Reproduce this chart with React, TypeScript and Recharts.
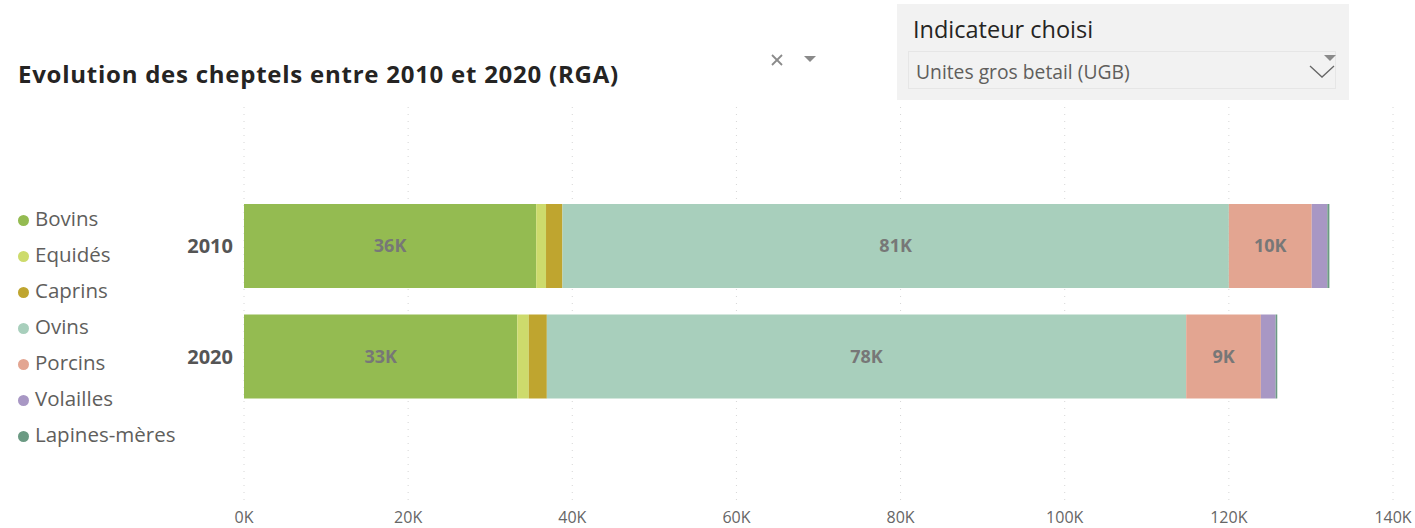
import React from 'react';
import { BarChart, Bar, XAxis, YAxis, CartesianGrid, LabelList } from 'recharts';

const years = ['2010', '2020'];
const seriesNames = ['Bovins', 'Equidés', 'Caprins', 'Ovins', 'Porcins', 'Volailles', 'Lapines-mères'];
const seriesColors = ['#94BB51', '#CDDB6C', '#BFA52F', '#A8CFBC', '#E3A591', '#A897C4', '#6B9A83'];
const values2010 = [35600, 1200, 2000, 81200, 10100, 1900, 250];
const values2020 = [33300, 1400, 2200, 77900, 9100, 1800, 200];
const xTicks = [0, 20000, 40000, 60000, 80000, 100000, 120000, 140000];
const labelledSeries = ['Bovins', 'Ovins', 'Porcins'];

const allValues = [values2010, values2020];
const data = years.map((y, i) => {
  const row: Record<string, any> = { year: y };
  seriesNames.forEach((s, j) => {
    row[s] = allValues[i][j];
  });
  return row;
});

const FONT = '"Segoe UI", "Open Sans", "Noto Sans", sans-serif';

const fmtK = (v: any) => `${Math.round(Number(v) / 1000)}K`;

export default function App() {
  return (
    <div style={{ position: 'absolute', left: 0, top: 0, width: 1415, height: 528, background: '#fff', fontFamily: FONT, overflow: 'hidden' }}>
      {/* Title */}
      <div style={{ position: 'absolute', left: 18, top: 57, fontSize: 24, fontWeight: 700, color: '#252423', whiteSpace: 'nowrap', letterSpacing: 0.75 }}>
        Evolution des cheptels entre 2010 et 2020 (RGA)
      </div>
      {/* clear / dropdown icons */}
      <svg style={{ position: 'absolute', left: 765, top: 48 }} width={60} height={24}>
        <line x1={7} y1={7} x2={17} y2={17} stroke="#8a8a8a" strokeWidth={1.8} />
        <line x1={17} y1={7} x2={7} y2={17} stroke="#8a8a8a" strokeWidth={1.8} />
        <polygon points="39,8 51,8 45,14" fill="#8a8a8a" />
      </svg>
      {/* Slicer */}
      <div style={{ position: 'absolute', left: 897, top: 4, width: 452, height: 96, background: '#F2F2F2' }}>
        <div style={{ position: 'absolute', left: 16, top: 9, fontSize: 23.5, color: '#252423', whiteSpace: 'nowrap' }}>Indicateur choisi</div>
        <div style={{ position: 'absolute', left: 11, top: 47, width: 428, height: 38, border: '1px solid #E6E6E6', boxSizing: 'border-box' }}>
          <div style={{ position: 'absolute', left: 7, top: 6, fontSize: 19.3, color: '#605E5C', whiteSpace: 'nowrap' }}>Unites gros betail (UGB)</div>
        </div>
        <svg style={{ position: 'absolute', left: 405, top: 48 }} width={40} height={36}>
          <polygon points="22,3 34,3 28,9" fill="#8a8a8a" />
          <polyline points="8,14 20,25 32,14" fill="none" stroke="#666" strokeWidth={1.3} />
        </svg>
      </div>
      {/* Legend */}
      <div style={{ position: 'absolute', left: 18, top: 202 }}>
        {seriesNames.map((s, i) => (
          <div key={s} style={{ display: 'flex', alignItems: 'center', height: 36, fontSize: 20.5, color: '#605E5C', whiteSpace: 'nowrap' }}>
            <span style={{ display: 'inline-block', width: 11, height: 11, borderRadius: 6, background: seriesColors[i], marginRight: 6, marginTop: 1 }} />
            <span style={{ lineHeight: '26px', marginTop: -4 }}>{s}</span>
          </div>
        ))}
      </div>
      {/* Chart */}
      <div style={{ position: 'absolute', left: 0, top: 0 }}>
        <BarChart
          width={1415}
          height={528}
          data={data}
          layout="vertical"
          margin={{ top: 107, right: 22, left: 0, bottom: 0 }}
          barSize={84}
        >
          <CartesianGrid horizontal={false} vertical={true} stroke="#D6D6D6" strokeDasharray="1 6" />
          <XAxis
            type="number"
            domain={[0, 140000]}
            ticks={xTicks}
            tickFormatter={fmtK}
            axisLine={false}
            tickLine={false}
            tickSize={5}
            tickMargin={2}
            height={23}
            interval={0}
            tick={{ fill: '#666', fontSize: 16, fontFamily: FONT }}
          />
          <YAxis
            type="category"
            dataKey="year"
            width={244}
            axisLine={false}
            tickLine={false}
            tickSize={0}
            tickMargin={11}
            padding={{ top: 84, bottom: 93 }}
            tick={{ fill: '#555', fontSize: 20, fontWeight: 700, fontFamily: FONT }}
          />
          {seriesNames.map((s, i) => (
            <Bar key={s} dataKey={s} stackId="a" fill={seriesColors[i]} isAnimationActive={false}>
              {labelledSeries.includes(s) ? (
                <LabelList
                  dataKey={s}
                  position="center"
                  formatter={fmtK}
                  style={{ fill: '#777', fontSize: 18, fontWeight: 700, fontFamily: FONT }}
                />
              ) : null}
            </Bar>
          ))}
        </BarChart>
      </div>
    </div>
  );
}
